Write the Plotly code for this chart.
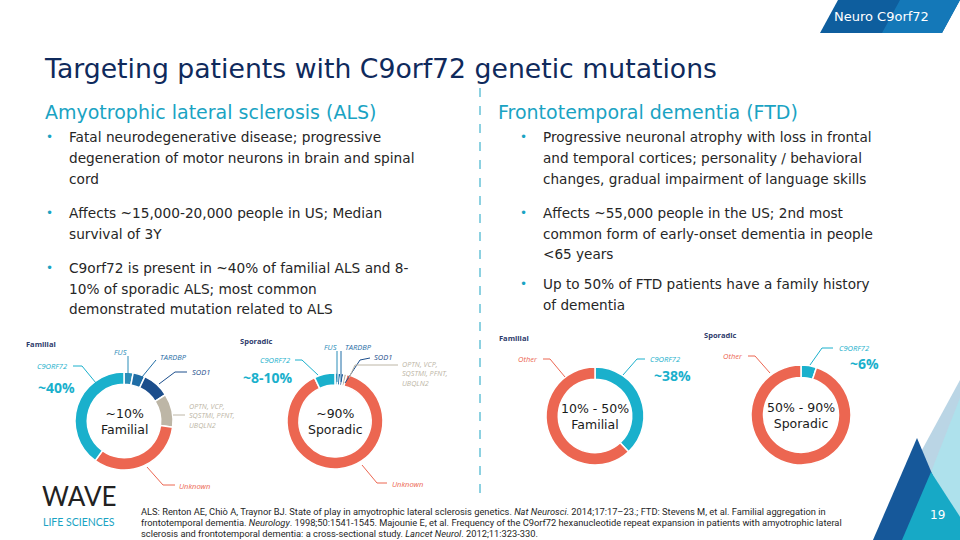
import plotly.graph_objects as go

# ---------------- data ----------------
als_fam_labels = ["FUS", "TARDBP", "SOD1", "OPTN, VCP, SQSTM1, PFNT, UBQLN2", "Unknown", "C9ORF72"]
als_fam_values = [3, 4, 9, 11, 33, 40]
als_spo_labels = ["FUS", "TARDBP", "SOD1", "OPTN, VCP, SQSTM1, PFNT, UBQLN2", "Unknown", "C9ORF72"]
als_spo_values = [1, 1, 1, 1, 89, 7]
ftd_fam_labels = ["C9ORF72", "Other"]
ftd_fam_values = [38, 62]
ftd_spo_labels = ["C9ORF72", "Other"]
ftd_spo_values = [5, 95]

C9 = "#1AB0CC"
UNK = "#EC6651"
FUSC = "#2A8DB8"
TARC = "#1F6DA6"
SODC = "#1C4E8C"
OTHC = "#BDB6A6"
als_colors = [FUSC, TARC, SODC, OTHC, UNK, C9]
ftd_colors = [C9, UNK]

W, H = 960, 540
TITLE = "#0F2A5C"
TEAL = "#1AA3C3"
BODY = "#262626"
FONT = "DejaVu Sans"

fig = go.Figure()

def donut(labels, values, colors, cx, cy, r, hole=0.75):
    fig.add_trace(go.Pie(
        labels=labels, values=values, sort=False, direction="clockwise", rotation=0,
        hole=hole, textinfo="none", hoverinfo="label+percent", showlegend=False,
        marker=dict(colors=colors, line=dict(color="white", width=1.5)),
        domain=dict(x=[(cx - r) / W, (cx + r) / W], y=[(H - cy - r) / H, (H - cy + r) / H]),
    ))

donut(als_fam_labels, als_fam_values, als_colors, 124, 421, 49)
donut(als_spo_labels, als_spo_values, als_colors, 335, 421, 48)
donut(ftd_fam_labels, ftd_fam_values, ftd_colors, 595, 416, 49)
donut(ftd_spo_labels, ftd_spo_values, ftd_colors, 801, 415, 50)

shapes = []
ann = []

def txt(x, y, s, size, color, xanchor="left", family=FONT, weight="normal", style="normal", yanchor="middle"):
    ann.append(dict(x=x, y=y, xref="x", yref="y", text=s, showarrow=False, xanchor=xanchor, yanchor=yanchor,
                    align=xanchor if xanchor != "center" else "center",
                    font=dict(size=size, color=color, family=family, weight=weight, style=style)))

def poly(pts, color, width=0, fill=True):
    path = "M " + " L ".join(f"{x},{y}" for x, y in pts)
    if fill:
        path += " Z"
        shapes.append(dict(type="path", xref="x", yref="y", path=path, fillcolor=color, line=dict(width=0), layer="below"))
    else:
        shapes.append(dict(type="path", xref="x", yref="y", path=path, line=dict(color=color, width=width), layer="above"))

# --- header tab (two-tone to suggest the gradient) ---
poly([(838, 0), (960, 0), (942, 33), (820, 33)], "#0E5E9E")
poly([(900, 0), (960, 0), (942, 33), (882, 33)], "#1478B8")
txt(881, 16, "Neuro C9orf72", 13, "white", xanchor="center")

# --- bottom right decoration ---
poly([(960, 380), (873, 540), (960, 540)], "#BAD5E5")
poly([(960, 398), (931, 472), (960, 540)], "#AEE1EC")
poly([(917, 438), (873, 540), (960, 540)], "#16589A")
poly([(931, 472), (902, 540), (975, 540)], "#17A9C6")
txt(937, 515, "19", 12, "white", xanchor="center")

# --- title ---
txt(42, 68, "Targeting patients with C9orf72 genetic mutations", 26.7, TITLE)
txt(43, 112, "Amyotrophic lateral sclerosis (ALS)", 19, TEAL)
txt(496, 112, "Frontotemporal dementia (FTD)", 19, TEAL)

# divider
shapes.append(dict(type="line", xref="x", yref="y", x0=480, x1=480, y0=88, y1=500,
                   line=dict(color=TEAL, width=1, dash="dash")))

left_lines = [
    (137, "Fatal neurodegenerative disease; progressive", True),
    (158, "degeneration of motor neurons in brain and spinal", False),
    (179, "cord", False),
    (213, "Affects ~15,000-20,000 people in US; Median", True),
    (234, "survival of 3Y", False),
    (268, "C9orf72 is present in ~40% of familial ALS and 8-", True),
    (289, "10% of sporadic ALS; most common", False),
    (309, "demonstrated mutation related to ALS", False),
]
right_lines = [
    (137, "Progressive neuronal atrophy with loss in frontal", True),
    (158, "and temporal cortices; personality / behavioral", False),
    (179, "changes, gradual impairment of language skills", False),
    (213, "Affects ~55,000 people in the US; 2nd most", True),
    (234, "common form of early-onset dementia in people", False),
    (254, "<65 years", False),
    (284, "Up to 50% of FTD patients have a family history", True),
    (305, "of dementia", False),
]
for y, s, b in left_lines:
    if b:
        txt(44, y, "•", 12, TEAL)
    txt(67, y, s, 13.7, BODY)
for y, s, b in right_lines:
    if b:
        txt(518, y, "•", 12, TEAL)
    txt(541, y, s, 13.6, BODY)

# --- donut annotations ---
LF = "Open Sans"
NAVY = "#2D3A6A"
def small(x, y, s, color, xanchor="left"):
    txt(x, y, s, 7.5, color, xanchor=xanchor, family=LF, style="italic")

def big(x, y, s, xanchor="left"):
    txt(x, y, s, 14, C9, xanchor=xanchor, family=LF, weight="bold")

# donut 1
txt(24, 344, "Familial", 7.5, NAVY, family=LF, weight="bold")
small(69, 366, "C9ORF72", C9, xanchor="right"); poly([(73, 366), (82, 366), (96, 383)], C9, 1, False)
big(36, 387, "~40%")
small(120, 352, "FUS", FUSC, xanchor="center"); poly([(128, 356), (128, 373)], FUSC, 1, False)
small(158, 357, "TARDBP", TARC); poly([(156, 360), (142, 377)], TARC, 1, False)
small(190, 372, "SOD1", SODC); poly([(187, 372), (175, 372), (159, 384)], SODC, 1, False)
txt(187, 415, "OPTN, VCP,<br>SQSTMI, PFNT,<br>UBQLN2", 7.2, OTHC, family=LF, style="italic")
poly([(173, 415), (185, 415)], OTHC, 1, False)
small(177, 486, "Unknown", UNK); poly([(147, 467), (163, 485), (175, 485)], UNK, 1, False)
txt(124, 421, "~10%<br>Familial", 12.5, "#1a1a1a", xanchor="center")

# donut 2
txt(238, 341, "Sporadic", 7.5, NAVY, family=LF, weight="bold")
small(292, 360, "C9ORF72", C9, xanchor="right"); poly([(295, 360), (302, 360), (318, 375)], C9, 1, False)
big(241, 377, "~8-10%")
small(330, 347, "FUS", FUSC, xanchor="center"); poly([(337, 351), (337, 382)], FUSC, 1, False)
small(343, 347, "TARDBP", TARC); poly([(341, 351), (341, 382)], TARC, 1, False)
small(372, 357, "SOD1", SODC); poly([(370, 358), (360, 360), (345, 383)], SODC, 1, False)
txt(400, 373, "OPTN, VCP,<br>SQSTMI, PFNT,<br>UBQLN2", 7.2, OTHC, family=LF, style="italic")
poly([(398, 365), (355, 365), (349, 378)], OTHC, 1, False)
small(390, 484, "Unknown", UNK); poly([(362, 465), (377, 483), (387, 483)], UNK, 1, False)
txt(335, 421, "~90%<br>Sporadic", 12.5, "#1a1a1a", xanchor="center")

# donut 3
txt(497, 338, "Familial", 7.5, NAVY, family=LF, weight="bold")
small(540, 359, "Other", UNK, xanchor="right"); poly([(543, 359), (550, 359), (565, 377)], UNK, 1, False)
small(648, 359, "C9ORF72", C9); poly([(645, 359), (637, 359), (623, 375)], C9, 1, False)
big(652, 375, "~38%")
txt(595, 416, "10% - 50%<br>Familial", 12.5, "#1a1a1a", xanchor="center")

# donut 4
txt(702, 335, "Sporadic", 7.5, NAVY, family=LF, weight="bold")
small(745, 356, "Other", UNK, xanchor="right"); poly([(748, 356), (755, 356), (770, 373)], UNK, 1, False)
small(837, 348, "C9ORF72", C9); poly([(833, 348), (822, 348), (810, 365)], C9, 1, False)
big(848, 363, "~6%")
txt(801, 415, "50% - 90%<br>Sporadic", 12.5, "#1a1a1a", xanchor="center")

# --- logo ---
txt(79, 514, "WAVE", 26, "#222222", xanchor="center", family="Lato", yanchor="bottom")
txt(79, 514, "LIFE SCIENCES", 10.5, TEAL, xanchor="center", family="Lato", yanchor="top")

# --- footnote ---
fn = [
    "ALS: Renton AE, Chiò A, Traynor BJ. State of play in amyotrophic lateral sclerosis genetics. <i>Nat Neurosci</i>. 2014;17:17–23.; FTD: Stevens M, et al. Familial aggregation in",
    "frontotemporal dementia. <i>Neurology</i>. 1998;50:1541-1545. Majounie E, et al. Frequency of the C9orf72 hexanucleotide repeat expansion in patients with amyotrophic lateral",
    "sclerosis and frontotemporal dementia: a cross-sectional study. <i>Lancet Neurol</i>. 2012;11:323-330.",
]
for i, s in enumerate(fn):
    txt(139, 511 + 11 * i, s, 9.3, "#262626", family="Roboto")

fig.update_layout(
    width=W, height=H, margin=dict(l=0, r=0, t=0, b=0),
    paper_bgcolor="white", plot_bgcolor="white",
    xaxis=dict(range=[0, W], visible=False, fixedrange=True),
    yaxis=dict(range=[H, 0], visible=False, fixedrange=True),
    shapes=shapes, annotations=ann,
)
fig.write_html("out.html", config={"displayModeBar": False},
               post_script="document.body.style.margin='0';document.body.style.overflow='hidden';")
